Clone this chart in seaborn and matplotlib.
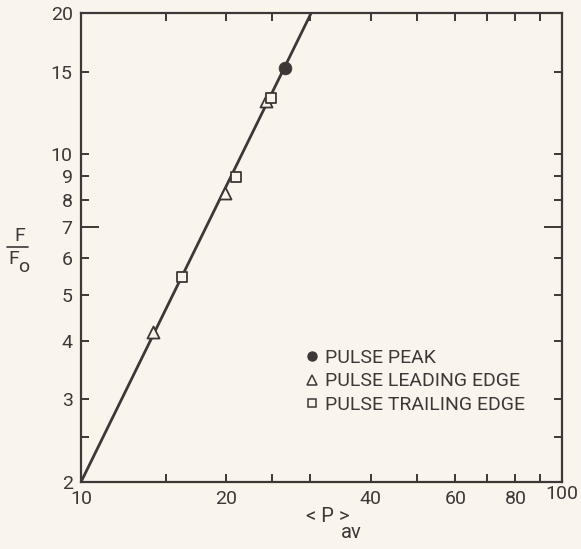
import matplotlib
matplotlib.use("Agg")
import matplotlib.pyplot as plt
from matplotlib.lines import Line2D
from matplotlib.ticker import NullLocator, FixedLocator, FixedFormatter
import seaborn as sns
import pandas as pd

# ---- data ----
peak_x = [26.6]
peak_y = [15.3]
lead_x = [14.1, 19.9, 24.3]
lead_y = [4.18, 8.26, 13.0]
trail_x = [16.2, 21.0, 24.8]
trail_y = [5.47, 8.94, 13.2]
fit_x = [10.0, 30.1]
fit_y = [2.0, 20.0]

x_ticks = [10, 15, 20, 25, 30, 40, 50, 60, 70, 80, 90, 100]
x_labels = ["10", "", "20", "", "", "40", "", "60", "", "80", "", "100"]
y_ticks = [2, 2.5, 3, 4, 5, 6, 7, 8, 9, 10, 15, 20]
y_labels = ["2", "", "3", "4", "5", "6", "7", "8", "9", "10", "15", "20"]
legend_labels = ["PULSE PEAK", "PULSE LEADING EDGE", "PULSE TRAILING EDGE"]

BG = "#faf5ec"
INK = "#3f3737"

sns.set_theme(style="white")
plt.rcParams["font.family"] = ["Roboto", "DejaVu Sans"]
plt.rcParams["text.color"] = INK

fig = plt.figure(figsize=(5.81, 5.49), dpi=100, facecolor=BG)
ax = fig.add_axes([81 / 581, 1 - 482 / 549, 481 / 581, 469 / 549])
ax.set_facecolor(BG)

fit_df = pd.DataFrame({"x": fit_x, "y": fit_y})
sns.lineplot(data=fit_df, x="x", y="y", ax=ax, color=INK, linewidth=2.0, zorder=2)

sns.scatterplot(x=lead_x, y=lead_y, ax=ax, marker="^", s=75, facecolor=BG,
                edgecolor=INK, linewidth=1.3, zorder=3)
sns.scatterplot(x=trail_x, y=trail_y, ax=ax, marker="s", s=55, facecolor=BG,
                edgecolor=INK, linewidth=1.3, zorder=3)
sns.scatterplot(x=peak_x, y=peak_y, ax=ax, marker="o", s=85, color=INK,
                edgecolor=INK, linewidth=0.5, zorder=4)

ax.set_xscale("log")
ax.set_yscale("log")
ax.set_xlim(10, 100)
ax.set_ylim(2, 20)
ax.xaxis.set_major_locator(FixedLocator(x_ticks))
ax.xaxis.set_major_formatter(FixedFormatter(x_labels))
ax.yaxis.set_major_locator(FixedLocator(y_ticks))
ax.yaxis.set_major_formatter(FixedFormatter(y_labels))
ax.xaxis.set_minor_locator(NullLocator())
ax.yaxis.set_minor_locator(NullLocator())
ax.tick_params(axis="both", which="major", direction="in", length=6, width=1.4,
               color=INK, labelcolor=INK, labelsize=14, top=True, right=True,
               bottom=True, left=True)
ax.tick_params(axis="x", pad=6)
ax.tick_params(axis="y", pad=6)
ax.set_xlabel("")
ax.set_ylabel("")

# longer tick at 7
for t, v in zip(ax.yaxis.get_major_ticks(), y_ticks):
    if v == 7:
        t.tick1line.set_markersize(13)
        t.tick2line.set_markersize(13)

for sp in ax.spines.values():
    sp.set_color(INK)
    sp.set_linewidth(1.6)

# axis labels
fig.text(328 / 581, 1 - 517 / 549, "< P >", fontsize=14.5, ha="center", va="center", color=INK)
fig.text(351 / 581, 1 - 532 / 549, "av", fontsize=14.5, ha="center", va="center", color=INK)
fig.text(20 / 581, 1 - 236 / 549, "F", fontsize=14, ha="center", va="center", color=INK)
fig.add_artist(Line2D([7 / 581, 28 / 581], [1 - 247 / 549, 1 - 247 / 549],
                      color=INK, linewidth=1.2))
fig.text(13.5 / 581, 1 - 259 / 549, "F", fontsize=14, ha="center", va="center", color=INK)
fig.text(23.5 / 581, 1 - 267 / 549, "o", fontsize=14, ha="center", va="center", color=INK)

handles = [
    Line2D([], [], linestyle="none", marker="o", markersize=6.5, color=INK,
           markerfacecolor=INK, markeredgecolor=INK),
    Line2D([], [], linestyle="none", marker="^", markersize=6.5, color=INK,
           markerfacecolor="none", markeredgecolor=INK, markeredgewidth=1.1),
    Line2D([], [], linestyle="none", marker="s", markersize=5.5, color=INK,
           markerfacecolor="none", markeredgecolor=INK, markeredgewidth=1.1),
]
leg = ax.legend(handles, legend_labels, loc="upper left",
                bbox_to_anchor=(305 / 581, 1 - 349 / 549), bbox_transform=fig.transFigure,
                frameon=False, handlelength=0.7, handletextpad=0.33, labelspacing=0.28,
                borderpad=0, borderaxespad=0, fontsize=14)
for txt in leg.get_texts():
    txt.set_color(INK)

# the "100" label sits a little higher in the reference
ax.xaxis.get_major_ticks()[-1].label1.set_y(0.011)

fig.savefig("out.png", dpi=100, facecolor=BG)
